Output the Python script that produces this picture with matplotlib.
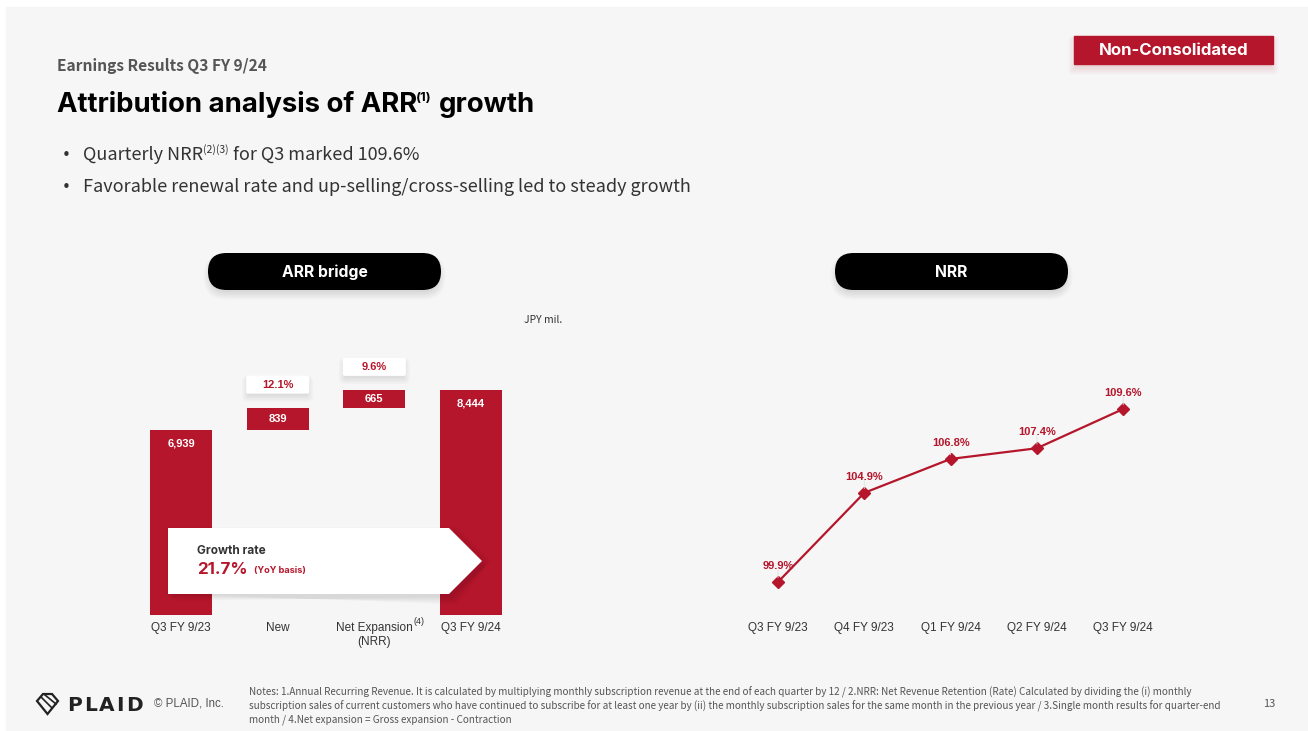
import matplotlib.pyplot as plt
from matplotlib.patches import FancyBboxPatch, Rectangle, Polygon

# ARR bridge, JPY mil.
bridge_labels = ['Q3 FY 9/23', 'New', 'Net Expansion\n(NRR)', 'Q3 FY 9/24']
arr_start = 6939
arr_new = 839
arr_expansion = 665
arr_end = 8444
new_share = '12.1%'
expansion_share = '9.6%'
growth_rate = '21.7%'

# quarterly NRR, %
nrr_quarters = ['Q3 FY 9/23', 'Q4 FY 9/23', 'Q1 FY 9/24', 'Q2 FY 9/24', 'Q3 FY 9/24']
nrr_values = [99.9, 104.9, 106.8, 107.4, 109.6]

notes = [
    'Notes: 1.Annual Recurring Revenue. It is calculated by multiplying monthly subscription revenue at the end of each quarter by 12 / '
    '2.NRR: Net Revenue Retention (Rate) Calculated by dividing the (i) monthly',
    'subscription sales of current customers who have continued to subscribe for at least one year by (ii) the monthly subscription '
    'sales for the same month in the previous year / 3.Single month results for quarter-end',
    'month / 4.Net expansion = Gross expansion - Contraction',
]

W, H = 1308, 731
RED = '#b5162b'
DARK = '#333333'
BG = '#f6f6f6'
HEAD = 'Inter'
BODY = 'Noto Sans CJK JP'
CHART = 'Liberation Sans'

fig = plt.figure(figsize=(W / 100, H / 100), dpi=100)
fig.patch.set_facecolor('white')


def px_axes(z):
    a = fig.add_axes([0, 0, 1, 1], zorder=z)
    a.set_xlim(0, W)
    a.set_ylim(H, 0)
    a.axis('off')
    a.patch.set_alpha(0)
    return a


def fig_rect(left, top, right, bottom):
    return [left / W, (H - bottom) / H, (right - left) / W, (bottom - top) / H]


def to_px(a, x, y):
    dx, dy = a.transData.transform((x, y))
    return dx, H - dy


def soft_shadow(a, x, y, w, h, r=0, dy=4, n=6, alpha=0.03, color='black', shrink=0):
    # stacked translucent boxes give a blurred drop shadow
    for i in range(n):
        g = i * 1.5 - shrink
        a.add_patch(FancyBboxPatch((x - g, y + dy - g), w + 2 * g, h + 2 * g,
                                   boxstyle=f'round,pad=0,rounding_size={max(r + g, 0)}',
                                   fc=color, ec='none', alpha=alpha))


def chain_text(a, x, y, parts):
    # draw text pieces side by side; each part is (text, gap_before, dy, kwargs)
    r = fig.canvas.get_renderer()
    for s, gap, dy, kw in parts:
        x += gap
        t = a.text(x, y + dy, s, va='baseline', ha='left', **kw)
        x += t.get_window_extent(r).width


bg = px_axes(0)
bg.add_patch(Rectangle((6, 7), W, H, color=BG))

# header
bg.text(57, 66, 'Earnings Results Q3 FY 9/24', fontsize=11.2, fontweight='bold',
        family=BODY, color='#555555', va='center')
title_kw = dict(fontsize=19.8, fontweight='bold', family=HEAD, color='black')
chain_text(bg, 57, 112, [
    ('Attribution analysis of ARR', 0, 0, title_kw),
    ('(1)', -1, -11, dict(fontsize=9.5, fontweight='bold', family=HEAD, color='black')),
    ('growth', 7, 0, title_kw),
])
bullet_kw = dict(fontsize=13, family=BODY, color=DARK)
bg.text(62, 156, '•', va='center', fontsize=11, color=DARK)
chain_text(bg, 83, 160, [
    ('Quarterly NRR', 0, 0, bullet_kw),
    ('(2)(3)', 0, -7, dict(fontsize=7.5, family=BODY, color=DARK)),
    ('for Q3 marked 109.6%', 4, 0, bullet_kw),
])
bg.text(62, 188, '•', va='center', fontsize=11, color=DARK)
bg.text(83, 192, 'Favorable renewal rate and up-selling/cross-selling led to steady growth',
        va='baseline', **bullet_kw)

# badge
soft_shadow(bg, 1074, 36, 199, 28, r=0, dy=5, n=6, alpha=0.025, color=RED, shrink=2)
bg.add_patch(Rectangle((1074, 36), 199, 28, color=RED))
bg.text(1173.5, 55, 'Non-Consolidated', color='white', fontsize=12.1, fontweight='bold',
        family=HEAD, ha='center', va='baseline')

# section pills
for x0, label in [(208, 'ARR bridge'), (835, 'NRR')]:
    soft_shadow(bg, x0, 253, 233, 37, r=18.5, dy=5, n=6, alpha=0.018, shrink=3)
    bg.add_patch(FancyBboxPatch((x0, 253), 233, 37, boxstyle='round,pad=0,rounding_size=18.5',
                                fc='black', ec='none'))
    bg.text(x0 + 116.5, 277, label, color='white', fontsize=11.3, fontweight='bold',
            family=HEAD, ha='center', va='baseline')

bg.text(543, 320, 'JPY mil.', fontsize=7.5, family=BODY, color=DARK, ha='center', va='center')

# ARR bridge waterfall
ax = fig.add_axes(fig_rect(123, 330, 529, 615), zorder=1)
ax.patch.set_alpha(0)
ax.set_xlim(-0.6, 3.6)
ax.set_ylim(0, 10690)
bottoms = [0, arr_start, arr_start + arr_new, 0]
heights = [arr_start, arr_new, arr_expansion, arr_end]
xs = range(len(heights))
ax.bar(xs, heights, bottom=bottoms, width=0.64, color=RED, linewidth=0)
for i in (0, 3):
    ax.annotate(f'{heights[i]:,}', (i, heights[i]), xytext=(0, -6), textcoords='offset points',
                ha='center', va='top', color='white', fontsize=8, fontweight='bold', family=CHART)
for i in (1, 2):
    ax.text(i, bottoms[i] + heights[i] / 2, f'{heights[i]:,}', ha='center', va='center',
            color='white', fontsize=8, fontweight='bold', family=CHART)
ax.set_xticks(list(xs))
ax.set_xticklabels(bridge_labels, fontsize=8.5, family=CHART, color=DARK)
ax.tick_params(axis='x', length=0, pad=5)
ax.set_yticks([])
for s in ax.spines.values():
    s.set_visible(False)

fg = px_axes(3)
fig.canvas.draw()

# share labels over the incremental bars
for i, share in [(1, new_share), (2, expansion_share)]:
    cx, top = to_px(ax, i, bottoms[i] + heights[i])
    by = top - 32
    soft_shadow(fg, cx - 31.5, by, 63, 18, r=2, dy=4, n=5, alpha=0.02, shrink=2)
    fg.add_patch(FancyBboxPatch((cx - 31.5, by), 63, 18, boxstyle='round,pad=0,rounding_size=2',
                                fc='white', ec='none'))
    fg.text(cx, by + 9, share, ha='center', va='center', color=RED, fontsize=8,
            fontweight='bold', family=CHART)

nx, ny = to_px(ax, 2, 0)
fg.text(nx + 45, ny + 7, '(4)', ha='center', va='center', fontsize=6.5, family=CHART, color=DARK)

# growth rate arrow
arrow = [(168, 528), (449, 528), (482, 561), (449, 594), (168, 594)]
for i in range(6):
    g = i * 1.5 - 2
    fg.add_patch(Polygon([(x - g + 3, y - g + 5) if x < 300 else (x + g + 3, y + (g if y > 561 else -g) + 5)
                          for x, y in arrow], closed=True, fc='black', ec='none', alpha=0.02))
fg.add_patch(Polygon(arrow, closed=True, fc='white', ec='none'))
fg.text(197, 551, 'Growth rate', fontsize=8.5, fontweight='bold', family=HEAD, color=DARK, va='center')
chain_text(fg, 197, 574, [
    (growth_rate, 0, 0, dict(fontsize=12.2, fontweight='bold', family=HEAD, color=RED)),
    ('(YoY basis)', 6, -1, dict(fontsize=6.6, fontweight='bold', family=HEAD, color=RED)),
])

# NRR line
ax2 = fig.add_axes(fig_rect(726.2, 330, 1175, 615), zorder=1)
ax2.patch.set_alpha(0)
ax2.set_xlim(-0.6, 4.6)
ax2.set_ylim(98.05, 114.03)
qx = list(range(len(nrr_values)))
ax2.plot(qx, nrr_values, color=RED, lw=1.6, marker='D', markersize=6, zorder=3)
for i, v in enumerate(nrr_values):
    ax2.annotate('', (i, v), xytext=(0, 9), textcoords='offset points',
                 arrowprops=dict(arrowstyle='-', color='#e2e2e2', lw=0.6, shrinkA=0, shrinkB=3))
    ax2.annotate(f'{v:.1f}%', (i, v), xytext=(0, 8), textcoords='offset points',
                 ha='center', va='bottom', color=RED, fontsize=8, fontweight='bold', family=CHART)
ax2.set_xticks(qx)
ax2.set_xticklabels(nrr_quarters, fontsize=8.5, family=CHART, color=DARK)
ax2.tick_params(axis='x', length=0, pad=5)
ax2.set_yticks([])
for s in ax2.spines.values():
    s.set_visible(False)

# footer
logo = [(37, 701), (43, 694), (52, 694), (58, 701), (47.5, 714)]
bg.add_patch(Polygon(logo, closed=True, fc='none', ec='#222222', lw=1.6))
bg.plot([41, 52], [697, 708], color='#222222', lw=1.2)
bg.plot([45, 56], [695, 704], color='#222222', lw=1.2)
logo_kw = dict(fontsize=14.5, fontweight='heavy', family='DejaVu Sans', color='#222222')
chain_text(bg, 67, 711, [(ch, 0 if k == 0 else 2, 0, logo_kw) for k, ch in enumerate('PLAID')])
bg.text(154, 704, '© PLAID, Inc.', fontsize=8.3, family=CHART, color='#555555', va='center')
for k, line in enumerate(notes):
    bg.text(249, 692 + 14 * k, line, fontsize=7.17, family=BODY, color='#555555', va='center')
bg.text(1269, 704, '13', fontsize=8, family=BODY, color='#555555', ha='center', va='center')

fig.savefig('out.png', dpi=100, facecolor=fig.get_facecolor())
